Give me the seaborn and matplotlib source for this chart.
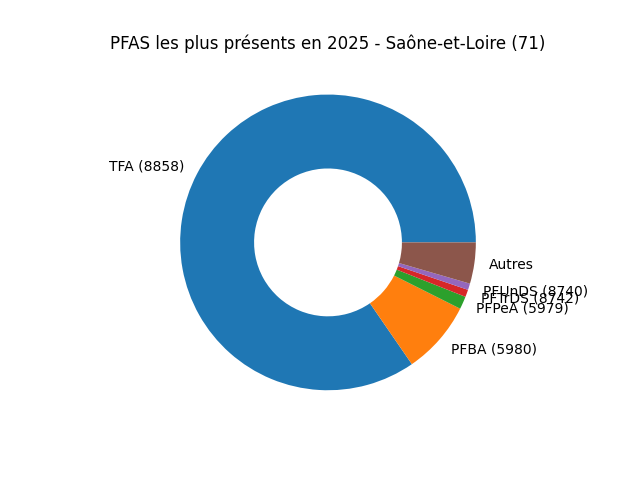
import matplotlib
matplotlib.use("Agg")
import matplotlib.pyplot as plt
import seaborn as sns

labels = ["TFA (8858)", "PFBA (5980)", "PFPeA (5979)", "PFTrDS (8742)", "PFUnDS (8740)", "Autres"]
values = [84.6, 8.0, 1.4, 0.8, 0.7, 4.5]

colors = sns.color_palette("tab10", len(values))
fig, ax = plt.subplots(figsize=(6.4, 4.8), dpi=100)
ax.pie(values, labels=labels, colors=colors, startangle=0, counterclock=True,
       wedgeprops=dict(width=0.5))
ax.set_title("PFAS les plus présents en 2025 - Saône-et-Loire (71)")
fig.savefig("out.png")
